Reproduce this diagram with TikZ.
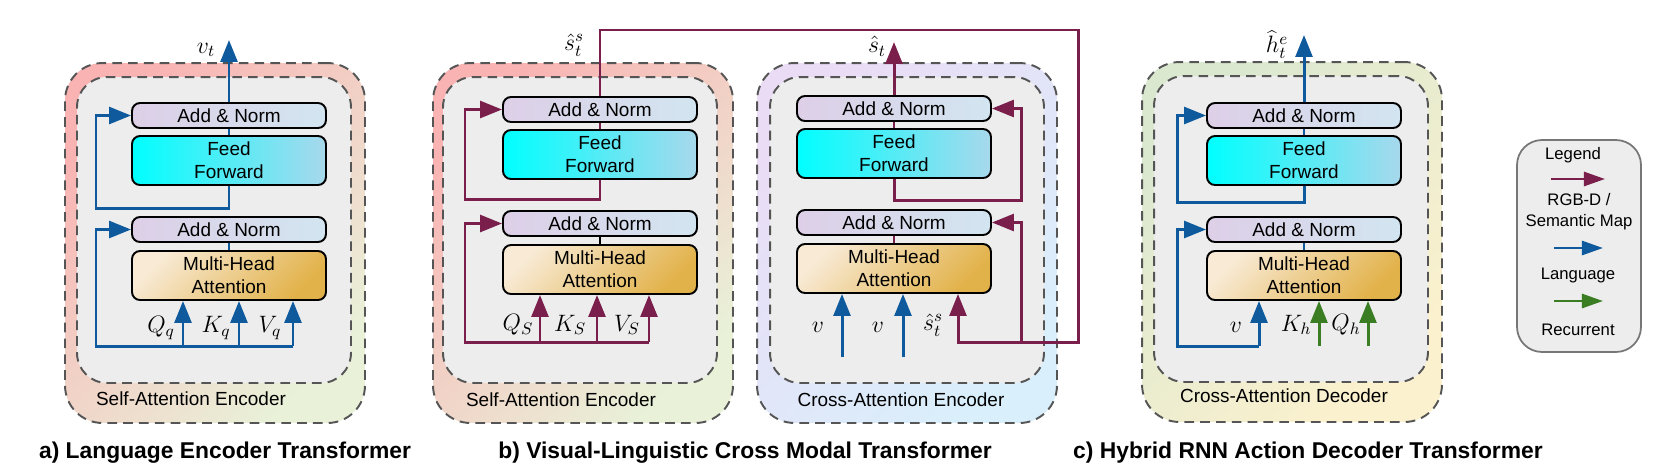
\RequirePackage{fix-cm}
\documentclass[tikz,border=0pt]{standalone}
\usepackage{fontspec}
\setmainfont{Liberation Sans}
\usetikzlibrary{arrows.meta,positioning}

\definecolor{rgbdpurple}{HTML}{7A1F4B}
\definecolor{langblue}{HTML}{0F5A9C}
\definecolor{recgreen}{HTML}{3A7D22}
\definecolor{innergray}{HTML}{EDEDED}
\definecolor{dashgray}{HTML}{555555}
\definecolor{anleft}{HTML}{DDCFE7}
\definecolor{anright}{HTML}{D2E5F0}
\definecolor{ffleft}{HTML}{00FFFF}
\definecolor{ffright}{HTML}{A8D8EC}
\definecolor{mhatop}{HTML}{F8EAD5}
\definecolor{mhabot}{HTML}{E2B24A}
\definecolor{pinkA}{HTML}{F9B3B3}
\definecolor{greenA}{HTML}{E9F1D9}
\definecolor{lilacB}{HTML}{EADCF5}
\definecolor{skyB}{HTML}{D9EFFB}
\definecolor{greenC}{HTML}{DAE8D0}
\definecolor{yellowC}{HTML}{FCF1CE}

\tikzset{
  outerbox/.style={draw=dashgray, line width=1.1pt, dash pattern=on 5.5pt off 3.5pt,
    rounded corners=0.75cm, minimum width=6cm, minimum height=7.2cm, inner sep=0pt},
  innerbox/.style={draw=dashgray, fill=innergray, line width=1.1pt, dash pattern=on 5.5pt off 3.5pt,
    rounded corners=0.6cm, minimum width=5.48cm, minimum height=6.12cm, inner sep=0pt},
  block/.style={draw, line width=1.1pt, rounded corners=0.16cm, minimum width=3.88cm,
    inner sep=0pt, align=center, font=\fontsize{10.8}{13}\selectfont},
  anbox/.style={block, left color=anleft, right color=anright, minimum height=0.5cm},
  ffbox/.style={block, left color=ffleft, right color=ffright, minimum height=0.98cm},
  mhabox/.style={block, top color=mhatop, bottom color=mhabot, shading angle=45, minimum height=0.98cm},
  boxlabel/.style={font=\fontsize{10.8}{13}\selectfont, inner sep=0pt},
  lbl/.style={font=\fontsize{13.5}{15}\selectfont, inner sep=0pt},
  titletext/.style={font=\bfseries\fontsize{13}{15}\selectfont, inner sep=0pt},
  legtext/.style={font=\fontsize{9.5}{12}\selectfont, inner sep=0pt, align=center},
  tip/.style={-{Triangle[length=12.5pt, width=9.6pt]}},
  langline/.style={draw=langblue, line width=1.7pt},
  langarr/.style={langline, tip},
  rgbdline/.style={draw=rgbdpurple, line width=1.7pt},
  rgbdarr/.style={rgbdline, tip},
  recarr/.style={draw=recgreen, line width=1.7pt, tip},
  legarr/.style={line width=1.5pt, -{Triangle[length=12pt, width=8pt]}},
}

\begin{document}
\begin{tikzpicture}[x=0.02cm, y=-0.02cm]
  \useasboundingbox (0,0) rectangle (1661,471);

  % encoder / decoder frames
  \node[outerbox, top color=pinkA, bottom color=greenA, shading angle=45] (outa) at (215,243) {};
  \node[innerbox] (inna) at (214,230) {};
  \node[outerbox, top color=pinkA, bottom color=greenA, shading angle=45] (outs) at (583,243) {};
  \node[innerbox] (inns) at (580,230) {};
  \node[outerbox, top color=lilacB, bottom color=skyB, shading angle=45] (outc) at (907,243) {};
  \node[innerbox] (innc) at (907,230) {};
  \node[outerbox, top color=greenC, bottom color=yellowC, shading angle=45] (outd) at (1292,242) {};
  \node[innerbox] (innd) at (1291,229) {};

  \node[boxlabel] (laba) at (191,399) {Self-Attention Encoder};
  \node[boxlabel] (labs) at (561,400) {Self-Attention Encoder};
  \node[boxlabel] (labc) at (901,400) {Cross-Attention Encoder};
  \node[boxlabel] (labd) at (1284,396) {Cross-Attention Decoder};

  % transformer layers
  \foreach \p/\cx/\dy in {a/229/0, s/600/-6, c/894/-7, d/1304/0} {
    \node[anbox] (an1\p) at (\cx,{115.5+(\dy)}) {Add \& Norm};
    \node[ffbox] (ff\p) at (\cx,{160.5+(\dy)}) {Feed\\Forward};
    \node[anbox] (an2\p) at (\cx,{229.5+(\dy)}) {Add \& Norm};
    \node[mhabox] (mha\p) at (\cx,{275.5+(\dy)}) {Multi-Head\\Attention};
  }

  % a) language encoder
  \coordinate (ina) at (96,346);
  \coordinate (qa) at (183,346);
  \coordinate (ka) at (239,346);
  \coordinate (va) at (293,346);
  \coordinate (loopa) at (96,208);
  \coordinate (topa) at (229,40);
  \draw[langline, line width=1.4pt] (an2a) -- (mhaa);
  \draw[langline, line width=1.4pt] (an1a) -- (ffa);
  \draw[langarr] (va) -- (ina) |- (an2a.west);
  \draw[langarr] (qa) -- (qa |- mhaa.south);
  \draw[langarr] (ka) -- (ka |- mhaa.south);
  \draw[langarr] (va) -- (va |- mhaa.south);
  \draw[langarr] (ffa.south) |- (loopa) |- (an1a.west);
  \draw[langarr] (an1a.north) -- (topa);
  \node[lbl] (lqa) at (161,328) {$Q_q$};
  \node[lbl] (lka) at (216,328) {$K_q$};
  \node[lbl] (lva) at (270,328) {$V_q$};
  \node[lbl] (lta) at (206,50) {$v_t$};

  % b) self-attention on RGB-D
  \coordinate (ins) at (465,342);
  \coordinate (qs) at (540,342);
  \coordinate (ks) at (597,342);
  \coordinate (vs) at (649,342);
  \coordinate (loops) at (465,199);
  \draw[line width=0.8pt] (an2s) -- (mhas);
  \draw[rgbdline, line width=1.4pt] (an1s) -- (ffs);
  \draw[rgbdarr] (vs) -- (ins) |- (an2s.west);
  \draw[rgbdarr] (qs) -- (qs |- mhas.south);
  \draw[rgbdarr] (ks) -- (ks |- mhas.south);
  \draw[rgbdarr] (vs) -- (vs |- mhas.south);
  \draw[rgbdarr] (ffs.south) |- (loops) |- (an1s.west);
  \node[lbl] (lqs) at (518,325) {$Q_S$};
  \node[lbl] (lks) at (570,325) {$K_S$};
  \node[lbl] (lvs) at (627,325) {$V_S$};
  \node[lbl] (lts) at (574,45) {$\hat{s}_t^s$};

  % b) cross-attention encoder
  \coordinate (toprc) at (1078,30);
  \coordinate (botrc) at (1078,342);
  \coordinate (sc) at (958,342);
  \coordinate (brc) at (1021,342);
  \coordinate (loopc) at (1021,200);
  \coordinate (v1c) at (842,357);
  \coordinate (v2c) at (903,357);
  \coordinate (topc) at (894,42);
  \draw[rgbdline, line width=1.4pt] (an2c) -- (mhac);
  \draw[rgbdline, line width=1.4pt] (an1c) -- (ffc);
  \draw[rgbdarr] (an1s.north) |- (toprc) -- (botrc) -- (sc) -- (sc |- mhac.south);
  \draw[rgbdarr] (brc) |- (an2c.east);
  \draw[rgbdarr] (ffc.south) |- (loopc) |- (an1c.east);
  \draw[rgbdarr] (an1c.north) -- (topc);
  \draw[langarr] (v1c) -- (v1c |- mhac.south);
  \draw[langarr] (v2c) -- (v2c |- mhac.south);
  \node[lbl] (lv1c) at (818,327) {$v$};
  \node[lbl] (lv2c) at (878,327) {$v$};
  \node[lbl] (lsc) at (933,325) {$\hat{s}_t^s$};
  \node[lbl] (ltc) at (877,46) {$\hat{s}_t$};

  % c) action decoder
  \coordinate (ind) at (1177,346);
  \coordinate (vd) at (1259,346);
  \coordinate (kd) at (1319,346);
  \coordinate (qd) at (1368,346);
  \coordinate (loopd) at (1177,202);
  \coordinate (topd) at (1304,35);
  \draw[langline, line width=1.4pt] (an2d) -- (mhad);
  \draw[langline, line width=1.4pt] (an1d) -- (ffd);
  \draw[langarr] (vd) -- (ind) |- (an2d.west);
  \draw[langarr] (vd) -- (vd |- mhad.south);
  \draw[recarr] (kd) -- (kd |- mhad.south);
  \draw[recarr] (qd) -- (qd |- mhad.south);
  \draw[langarr] (ffd.south) |- (loopd) |- (an1d.west);
  \draw[langarr] (an1d.north) -- (topd);
  \node[lbl] (lvd) at (1236,327) {$v$};
  \node[lbl] (lkd) at (1296,325) {$K_h$};
  \node[lbl] (lqd) at (1346,325) {$Q_h$};
  \node[lbl] (ltd) at (1277,45) {$\widehat{h}_t^e$};

  % titles
  \node[titletext] (titlea) at (225,453) {a) Language Encoder Transformer};
  \node[titletext] (titleb) at (745,453) {b) Visual-Linguistic Cross Modal Transformer};
  \node[titletext] (titlec) at (1308,453) {c) Hybrid RNN Action Decoder Transformer};

  % legend
  \node[draw=dashgray!80, fill=innergray, line width=1pt, rounded corners=0.5cm,
    minimum width=2.48cm, minimum height=4.24cm] (legend) at (1579,246) {};
  \node[legtext] (legtitle) at (1573,155) {Legend};
  \node[legtext] (legrgbd) at (1579,212) {RGB-D /\\Semantic Map};
  \node[legtext] (leglang) at (1578,275) {Language};
  \node[legtext] (legrec) at (1578,330) {Recurrent};
  \coordinate (lg1a) at (1551,179);
  \coordinate (lg1b) at (1605,179);
  \coordinate (lg2a) at (1554,248);
  \coordinate (lg2b) at (1603,248);
  \coordinate (lg3a) at (1554,301);
  \coordinate (lg3b) at (1603,301);
  \draw[legarr, rgbdpurple] (lg1a) -- (lg1b);
  \draw[legarr, langblue] (lg2a) -- (lg2b);
  \draw[legarr, recgreen] (lg3a) -- (lg3b);
\end{tikzpicture}
\end{document}
